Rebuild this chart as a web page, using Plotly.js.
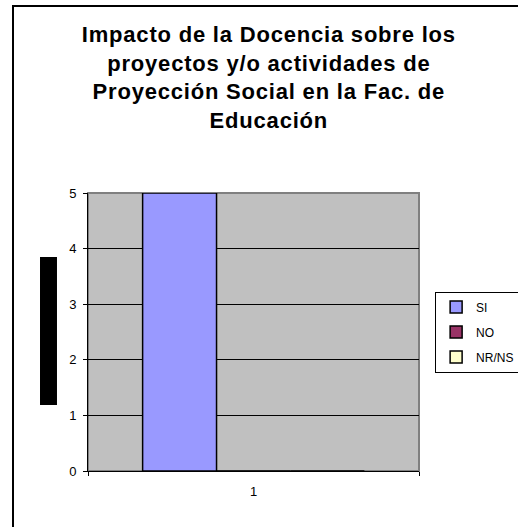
<!DOCTYPE html>
<html>
<head>
<meta charset="utf-8">
<script src="https://cdn.plot.ly/plotly-3.0.1.min.js"></script>
<style>
html,body{margin:0;padding:0;background:#fff;overflow:hidden;}
#wrap{position:relative;width:518px;height:527px;overflow:hidden;}
#chart{position:absolute;left:0;top:0;width:518px;height:527px;}
#frame{position:absolute;left:12px;top:5px;width:600px;height:600px;border-left:2px solid #000;border-top:2px solid #000;pointer-events:none;}
.gtitle{letter-spacing:0.8px;}
</style>
</head>
<body>
<div id="wrap"><div id="chart"></div><div id="frame"></div></div>
<script>
const categories = ['1'];
const seriesNames = ['SI', 'NO', 'NR/NS'];
const siValues = [5];
const noValues = [0];
const nrnsValues = [0];
const seriesColors = ['#9999FF', '#993366', '#FFFFCC'];
const yTicks = [0, 1, 2, 3, 4, 5];
const titleText = 'Impacto de la Docencia sobre los<br>proyectos y/o actividades de<br>Proyección Social en la Fac. de<br>Educación';

const FONT = 'Arial, "Liberation Sans", sans-serif';
const values = [siValues, noValues, nrnsValues];

const traces = seriesNames.map((name, i) => ({
  type: 'bar',
  name: name,
  x: categories,
  y: values[i],
  legendgroup: 'g' + i,
  marker: { color: seriesColors[i], line: { color: '#000000', width: 1.5 } },
  hoverinfo: 'none'
}));

const layout = {
  width: 518,
  height: 527,
  margin: { l: 88, r: 99, t: 193, b: 56, pad: 0, autoexpand: false },
  paper_bgcolor: '#FFFFFF',
  plot_bgcolor: '#C0C0C0',
  font: { family: FONT, color: '#000000', size: 12 },
  title: {
    text: titleText,
    font: { family: FONT, size: 22, color: '#000000', weight: 'bold' },
    x: 0.519, xref: 'container', xanchor: 'center',
    y: 0.92, yref: 'container', yanchor: 'top'
  },
  barmode: 'group',
  bargap: 0.33,
  bargroupgap: 0,
  xaxis: {
    type: 'category',
    showgrid: false,
    showline: true, linecolor: '#000000', linewidth: 1,
    ticks: 'outside', tickson: 'boundaries', ticklen: 4, tickcolor: '#000000',
    ticklabelstandoff: 8,
    tickfont: { family: FONT, size: 13, color: '#000000' },
    zeroline: false, fixedrange: true
  },
  yaxis: {
    range: [0, 5],
    tickvals: yTicks,
    showgrid: true, gridcolor: '#000000', gridwidth: 1,
    showline: true, linecolor: '#000000', linewidth: 1,
    ticks: 'outside', ticklen: 4, tickcolor: '#000000',
    ticklabelstandoff: 4,
    tickfont: { family: FONT, size: 13, color: '#000000' },
    zeroline: false, fixedrange: true
  },
  showlegend: true,
  legend: {
    x: 0.84, xref: 'container', xanchor: 'left',
    y: 0.37, yref: 'container', yanchor: 'middle',
    bgcolor: '#FFFFFF', bordercolor: '#000000', borderwidth: 1,
    font: { family: FONT, size: 12, color: '#000000' },
    traceorder: 'grouped', tracegroupgap: 6,
    itemwidth: 30
  },
  shapes: [
    { type: 'rect', xref: 'paper', yref: 'paper', x0: 0, x1: 1, y0: 0, y1: 1,
      line: { color: '#808080', width: 2 }, fillcolor: 'rgba(0,0,0,0)', layer: 'below' },
    { type: 'rect', xref: 'paper', yref: 'paper',
      x0: -0.145, x1: -0.0937, y0: 0.237, y1: 0.770,
      line: { width: 0 }, fillcolor: '#000000', layer: 'above' }
  ]
};

Plotly.newPlot('chart', traces, layout, { displayModeBar: false, staticPlot: true });
</script>
</body>
</html>
